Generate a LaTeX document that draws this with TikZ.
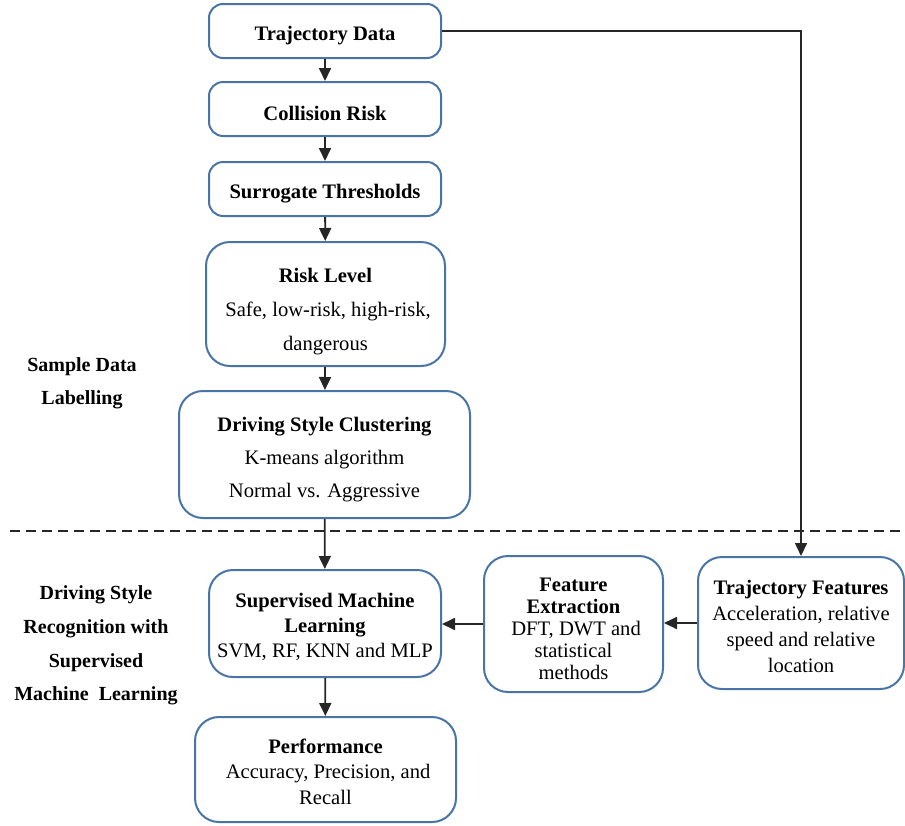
\documentclass[tikz,border=0pt]{standalone}
\usepackage{fontspec}
\setmainfont{Liberation Serif}
\usetikzlibrary{arrows.meta}
\definecolor{boxblue}{RGB}{72,116,166}
\newcommand{\topgap}[1]{\rule{0pt}{#1}}

\begin{document}
\begin{tikzpicture}[x=0.5pt,y=-0.5pt,
  box/.style={draw=boxblue,line width=1pt,rounded corners=7pt,align=center,inner sep=0pt},
  bigbox/.style={box,rounded corners=12pt},
  flow/.style={-{Triangle[length=6.5pt,width=6pt]},line width=0.9pt,draw=black!85}]
\useasboundingbox (0,0) rectangle (905,825);
% sample data labelling
\path (325,31) node (trajdata) [box,minimum width=116pt,minimum height=27pt,font=\fontsize{10.3}{12}\selectfont] {\topgap{11.5pt}\textbf{Trajectory Data}};
\path (325,109) node (collision) [box,minimum width=116pt,minimum height=27pt,font=\fontsize{10.3}{12}\selectfont] {\topgap{11.5pt}\textbf{Collision Risk}};
\path (325,189) node (surrogate) [box,minimum width=116pt,minimum height=27pt,font=\fontsize{10.3}{12}\selectfont] {\topgap{11.5pt}\textbf{Surrogate Thresholds}};
\path (325.5,304) node (risklevel) [bigbox,minimum width=119.5pt,minimum height=62pt,font=\fontsize{10.3}{17}\selectfont] {\topgap{14.3pt}\textbf{Risk Level}\\ \ Safe, low-risk, high-risk,\\dangerous};
\path (324.5,454.5) node (clustering) [bigbox,minimum width=145.5pt,minimum height=63.5pt,font=\fontsize{10.3}{16.5}\selectfont] {\topgap{12.3pt}\textbf{Driving Style Clustering}\\K-means algorithm\\Normal vs. Aggressive};
\path (82,383) node (labelA) [align=center,font=\fontsize{10}{16.5}\selectfont\bfseries] {Sample Data\\Labelling};
% separator
\draw [dashed,dash pattern=on 5pt off 3pt,line width=0.7pt,black!85] (10,531) -- (905,531);
% recognition
\path (325,623.5) node (supervised) [bigbox,minimum width=116pt,minimum height=53.5pt,font=\fontsize{10.3}{12.5}\selectfont] {\topgap{10.3pt}\textbf{Supervised Machine}\\\textbf{Learning}\\SVM, RF, KNN and MLP};
\path (325.5,769.5) node (performance) [bigbox,minimum width=130.5pt,minimum height=52.5pt,font=\fontsize{10.3}{12.75}\selectfont] {\topgap{9.5pt}\textbf{Performance}\\ \ Accuracy, Precision, and\\Recall};
\path (573.5,624) node (extraction) [bigbox,minimum width=89.5pt,minimum height=68pt,font=\fontsize{10.3}{11}\selectfont] {\topgap{11.3pt}\textbf{Feature}\\\textbf{Extraction}\\ \ DFT, DWT and\\statistical\\methods};
\path (801,623) node (trajfeat) [bigbox,minimum width=103pt,minimum height=66pt,font=\fontsize{10.3}{13}\selectfont] {\topgap{10.3pt}\textbf{Trajectory Features}\\Acceleration, relative\\speed and relative\\location};
\path (96,645.5) node (labelB) [align=center,font=\fontsize{10}{16.8}\selectfont\bfseries] {Driving Style\\Recognition with\\Supervised\\Machine~~Learning};

\draw [flow] (trajdata) to (collision);
\draw [flow] (collision) to (surrogate);
\draw [flow] (surrogate) to (risklevel);
\draw [flow] (risklevel) to (clustering);
\draw [flow] (clustering) to (supervised);
\draw [flow] (supervised) to (performance);
\draw [flow,line width=0.8pt] (trajdata.east) -| (trajfeat.north);
\draw [flow] (trajfeat.west) to (extraction.east |- trajfeat.west);
\draw [flow] (extraction.west) to (supervised.east |- extraction.west);
\end{tikzpicture}
\end{document}
